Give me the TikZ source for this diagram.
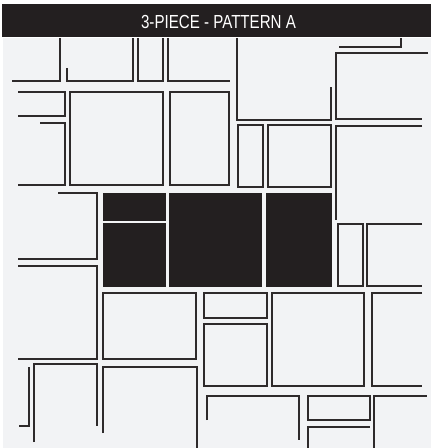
\documentclass[tikz,border=0pt]{standalone}
\usepackage{fontspec}
\setmainfont{Liberation Sans}
\usepackage{xcolor}
\usepackage{tikz}

\definecolor{paper}{HTML}{F2F3F5}
\definecolor{ink}{HTML}{231F20}

\begin{document}
\begin{tikzpicture}[x=1pt, y=-1pt]
        % Define styles for the pavers
        \tikzstyle{stone} = [draw=ink!95, line width=1.3pt, line join=miter]
        \tikzstyle{piece} = [fill=ink]
        \tikzstyle{title} = [text=white, font=\fontsize{18.9}{22}\selectfont, anchor=base, xscale=0.8]

        % Page, background and header bar
        \useasboundingbox (0,0) rectangle (431,448);
        \fill [white] (0,0) rectangle (431,448);
        \fill [paper] (3,38) rectangle (431,448);
        \fill [ink] (2,4) rectangle (431,37);
        \node (header) [title] at (218.5,28) {3-PIECE - PATTERN A};

        % Top row
        \draw [stone] (12,81) -- (60,81) -- (60,38);
        \draw [stone] (67,68) -- (67,81) -- (133,81) -- (133,38);
        \draw [stone] (138,38) -- (138,81) -- (163,81) -- (163,38);
        \draw [stone] (168,38) -- (168,81) -- (230,81);
        \draw [stone] (237,38) -- (237,120) -- (331,120) -- (331,87);
        \draw [stone] (339,47) -- (401,47) -- (401,38);
        \draw [stone] (428,53) -- (336,53) -- (336,119) -- (422,119);

        % Second row
        \draw [stone] (18,92) -- (65,92) -- (65,116) -- (18,116);
        \draw [stone] (40,123) -- (65,123) -- (65,185) -- (18,185);
        \draw [stone] (70,92) rectangle (163,185);
        \draw [stone] (170,92) rectangle (229,185);
        \draw [stone] (238,125) rectangle (263,187);
        \draw [stone] (268,125) rectangle (331,187);
        \draw [stone] (422,126) -- (336,126) -- (336,220);

        % Third row with the three-piece set
        \draw [stone] (58,193) -- (97,193) -- (97,259) -- (18,259);
        \fill [piece] (103,193) rectangle (166,221);
        \fill [piece] (103,223) rectangle (166,287);
        \fill [piece] (169,193) rectangle (262,287);
        \fill [piece] (266,193) rectangle (332,287);
        \draw [stone] (338,224) rectangle (363,286);
        \draw [stone] (422,224) -- (367,224) -- (367,286) -- (422,286);

        % Fourth row
        \draw [stone] (18,266) -- (97,266) -- (97,359) -- (18,359);
        \draw [stone] (103,293) rectangle (196,359);
        \draw [stone] (204,293) rectangle (267,318);
        \draw [stone] (204,324) rectangle (267,386);
        \draw [stone] (272,293) rectangle (364,386);
        \draw [stone] (422,293) -- (372,293) -- (372,386) -- (422,386);

        % Bottom row
        \draw [stone] (19,426) -- (29,426) -- (29,367);
        \draw [stone] (34,442) -- (34,364) -- (97,364) -- (97,426);
        \draw [stone] (103,433) -- (103,367) -- (197,367) -- (197,448);
        \draw [stone] (207,420) -- (207,396) -- (299,396) -- (299,440);
        \draw [stone] (308,396) rectangle (370,420);
        \draw [stone] (308,448) -- (308,427) -- (370,427);
        \draw [stone] (374,448) -- (374,396) -- (427,396);
    \end{tikzpicture}
\end{document}
